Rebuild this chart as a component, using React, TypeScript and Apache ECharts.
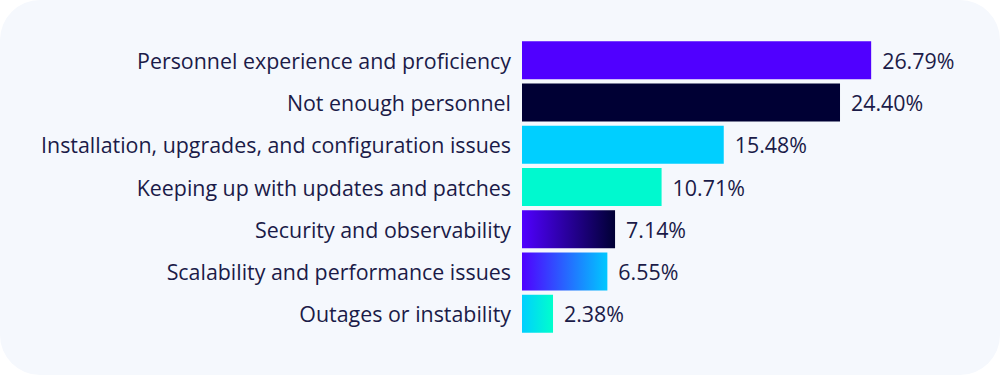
import React, { useEffect, useRef } from "react";
import * as echarts from "echarts";

const categories = [
  "Personnel experience and proficiency",
  "Not enough personnel",
  "Installation, upgrades, and configuration issues",
  "Keeping up with updates and patches",
  "Security and observability",
  "Scalability and performance issues",
  "Outages or instability",
];
const values = [26.79, 24.4, 15.48, 10.71, 7.14, 6.55, 2.38];

const grad = (a: string, b: string) =>
  new echarts.graphic.LinearGradient(0, 0, 1, 0, [
    { offset: 0, color: a },
    { offset: 1, color: b },
  ]);

const barColors = [
  "#5000FF",
  "#000034",
  "#00CFFF",
  "#00F9CF",
  grad("#5000FF", "#000034"),
  grad("#5000FF", "#00C8FF"),
  grad("#00CFFF", "#00FFCC"),
];

export default function App() {
  const ref = useRef<HTMLDivElement>(null);
  useEffect(() => {
    document.body.style.margin = "0";
    const chart = echarts.init(ref.current!, null, { renderer: "svg" });
    chart.setOption({
      animation: false,
      backgroundColor: "transparent",
      grid: { left: 522, right: 87, top: 39, bottom: 40 },
      xAxis: {
        type: "value",
        min: 0,
        max: 30,
        show: false,
      },
      yAxis: {
        type: "category",
        inverse: true,
        data: categories,
        axisLine: { show: false },
        axisTick: { show: false },
        splitLine: { show: false },
        axisLabel: {
          margin: 11,
          color: "#1b1b48",
          fontSize: 21.4,
          fontFamily: "Open Sans",
        },
      },
      series: [
        {
          type: "bar",
          barWidth: 38,
          data: values.map((v, i) => ({ value: v, itemStyle: { color: barColors[i] } })),
          label: {
            show: true,
            position: "right",
            distance: 11,
            color: "#1b1b48",
            fontSize: 21.4,
            fontFamily: "Open Sans",
            formatter: (p: any) => p.value.toFixed(2) + "%",
          },
        },
      ],
    });
    return () => chart.dispose();
  }, []);
  return (
    <div
      ref={ref}
      style={{
        width: 1000,
        height: 375,
        background: "#f5f8fd",
        borderRadius: 40,
      }}
    />
  );
}
